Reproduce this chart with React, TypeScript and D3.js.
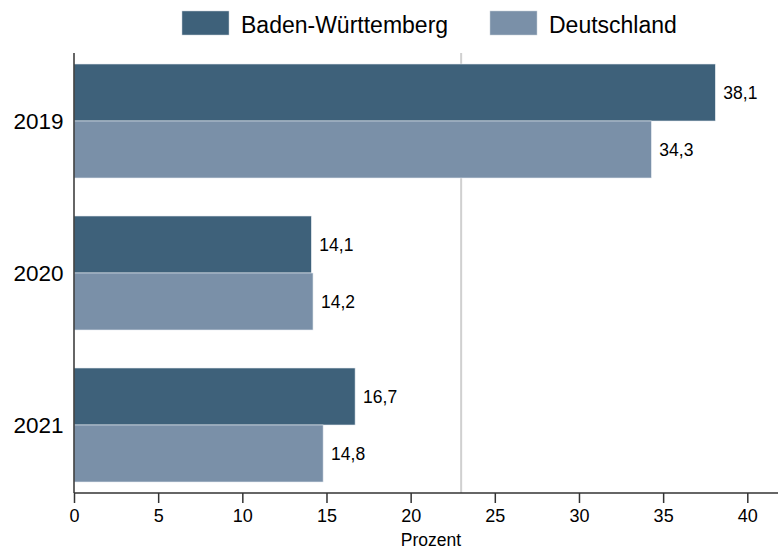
import * as d3 from 'd3';
import { useEffect, useRef } from 'react';

// chart data
const years = ['2019', '2020', '2021'];
const seriesNames = ['Baden-Württemberg', 'Deutschland'];
const bwValues = [38.1, 14.1, 16.7];
const deValues = [34.3, 14.2, 14.8];
const xTicks = [0, 5, 10, 15, 20, 25, 30, 35, 40];
const refValue = 23;

const colors = ['#3e617a', '#7a90a8'];
const font = '"Liberation Sans", Arial, sans-serif';

const width = 778;
const height = 551;
const margin = { top: 53, right: 0, bottom: 58, left: 74 };

function App() {
    const xAxisRef = useRef(null);

    const x = d3.scaleLinear().domain([0, 40]).range([margin.left, 747.3]);
    const axisY = height - margin.bottom;

    // group band per year, inner band per series
    const y = d3.scaleBand().domain(years).range([45, 501]).paddingInner(0.25).paddingOuter(0.125);
    const ySub = d3.scaleBand().domain(seriesNames).range([0, y.bandwidth()]);

    const rows = years.map((yr, i) => ({ year: yr, values: [bwValues[i], deValues[i]] }));
    const fmt = (v) => d3.format('.1f')(v).replace('.', ',');

    useEffect(() => {
        const axis = d3.axisBottom(x).tickValues(xTicks).tickSize(10).tickPadding(6).tickFormat(d3.format('d'));
        const g = d3.select(xAxisRef.current).call(axis);
        g.select('.domain').remove();
        g.selectAll('.tick line').attr('stroke', '#333').attr('stroke-width', 1.5);
        g.selectAll('.tick text').attr('font-size', 18).attr('font-family', font).attr('fill', '#000');
    }, []);

    return (
        <svg width={width} height={height} style={{ position: 'absolute', left: 0, top: 0, background: '#fff' }}>
            {/* legend */}
            {seriesNames.map((name, i) => {
                const lx = [182, 490][i];
                return (
                    <g key={name}>
                        <rect x={lx} y={11} width={47} height={24} fill={colors[i]} stroke="#c8d0d8" strokeWidth={0.5} />
                        <text x={lx + 59} y={33} fontSize={23} fontFamily={font} fill="#000">{name}</text>
                    </g>
                );
            })}

            {/* reference line */}
            <line x1={x(refValue)} x2={x(refValue)} y1={margin.top} y2={axisY} stroke="#d0d0d0" strokeWidth={2} />

            {/* bars */}
            {rows.map((r) => (
                <g key={r.year} transform={`translate(0, ${y(r.year)})`}>
                    {r.values.map((v, j) => (
                        <g key={j}>
                            <rect x={x(0)} y={ySub(seriesNames[j])} width={x(v) - x(0)} height={ySub.bandwidth()}
                                fill={colors[j]} stroke="#e6ebf0" strokeWidth={0.6} />
                            <text x={x(v) + 8} y={ySub(seriesNames[j]) + ySub.bandwidth() / 2} dy="0.35em"
                                fontSize={17.5} fontFamily={font} fill="#000">{fmt(v)}</text>
                        </g>
                    ))}
                    <text x={63.5} y={y.bandwidth() / 2} dy="0.35em" textAnchor="end" fontSize={22.5} fontFamily={font} fill="#000">{r.year}</text>
                </g>
            ))}

            {/* axes lines */}
            <line x1={margin.left} x2={margin.left} y1={margin.top} y2={axisY} stroke="#333" strokeWidth={1.5} />
            <line x1={margin.left} x2={width} y1={axisY} y2={axisY} stroke="#333" strokeWidth={1.5} />
            <g ref={xAxisRef} transform={`translate(0, ${axisY})`} />

            <text x={431} y={546} textAnchor="middle" fontSize={17.5} fontFamily={font} fill="#000">Prozent</text>
        </svg>
    );
}

export default App;
